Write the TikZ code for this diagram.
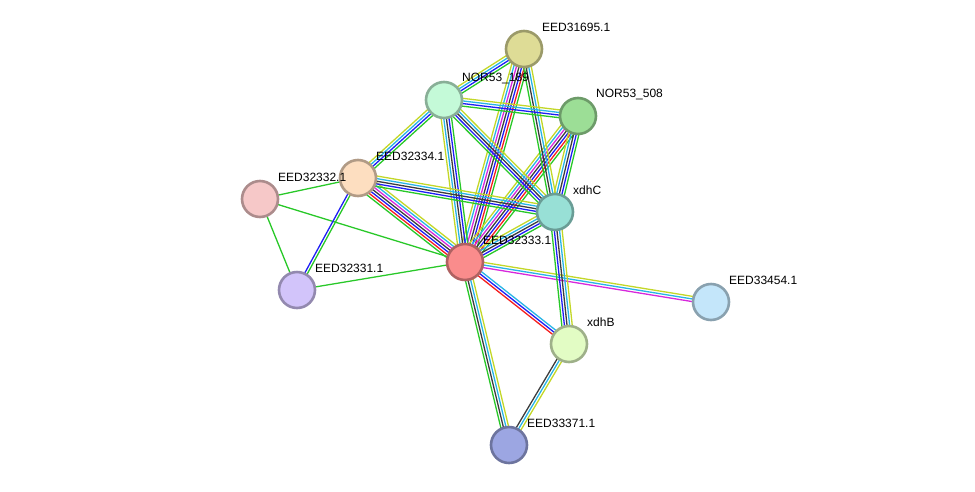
\documentclass[tikz,border=0pt]{standalone}
\usepackage{fontspec}
\setmainfont{Liberation Sans}
\usetikzlibrary{calc,backgrounds}
\definecolor{EvNeigh}{RGB}{40,200,40}
\definecolor{EvFus}{RGB}{245,30,30}
\definecolor{EvCooc}{RGB}{30,30,245}
\definecolor{EvCoex}{RGB}{60,60,60}
\definecolor{EvExp}{RGB}{215,40,220}
\definecolor{EvDb}{RGB}{40,180,230}
\definecolor{EvText}{RGB}{195,215,40}
\tikzset{
	prot/.style={circle,draw=#1!70!black,fill=#1,line width=2.6pt,minimum size=36pt,inner sep=0pt},
	plabel/.style={anchor=west,font=\fontsize{12}{14}\selectfont,text=black,inner sep=0pt},
	evline/.style={line width=1.3pt},
}
% one coloured strand per evidence channel, side by side
\newcommand{\strands}[3]{%
	\foreach \c [count=\n] in {#3} {\xdef\nstrands{\n}}
	\foreach \c [count=\i] in {#3} {
		\pgfmathsetmacro\off{(\i-(\nstrands+1)/2)*2.6}
		\draw[evline,\c] ($(#1.center)!\off pt!90:(#2.center)$) -- ($(#2.center)!\off pt!-90:(#1.center)$);
	}
}

\begin{document}
\begin{tikzpicture}[x=1pt,y=-1pt]
	\useasboundingbox (0,0) rectangle (975,491);
	\definecolor{cA}{RGB}{222,220,150}
	\definecolor{cB}{RGB}{196,250,216}
	\definecolor{cC}{RGB}{156,222,150}
	\definecolor{cD}{RGB}{253,222,192}
	\definecolor{cE}{RGB}{246,200,200}
	\definecolor{cF}{RGB}{152,224,214}
	\definecolor{cG}{RGB}{250,140,140}
	\definecolor{cH}{RGB}{210,196,250}
	\definecolor{cI}{RGB}{196,230,250}
	\definecolor{cJ}{RGB}{226,252,196}
	\definecolor{cK}{RGB}{156,166,226}
	\foreach \nm/\x/\y/\col/\txt in {
		n31695/524/49/cA/EED31695.1,
		n189/444/100/cB/NOR53\_189,
		n508/578/116/cC/NOR53\_508,
		n32334/358/178/cD/EED32334.1,
		n32332/260/199/cE/EED32332.1,
		xdhC/555/212/cF/xdhC,
		n32333/465/262/cG/EED32333.1,
		n32331/297/290/cH/EED32331.1,
		n33454/711/302/cI/EED33454.1,
		xdhB/569/344/cJ/xdhB,
		n33371/509/445/cK/EED33371.1}
	{
		\node[prot=\col] (\nm) at (\x,\y) {};
		\node[plabel] (\nm-l) at ($(\nm.center)+(18,-22)$) {\txt};
	}
	\begin{scope}[on background layer]
		\strands{n32333}{n31695}{EvNeigh,EvFus,EvCooc,EvCoex,EvExp,EvDb,EvText}
		\strands{n32333}{n189}{EvNeigh,EvCooc,EvCoex,EvDb,EvText}
		\strands{n32333}{n508}{EvNeigh,EvFus,EvCooc,EvCoex,EvExp,EvDb,EvText}
		\strands{n32334}{n32333}{EvNeigh,EvFus,EvCooc,EvCoex,EvExp,EvDb,EvText}
		\strands{n32333}{xdhC}{EvNeigh,EvCooc,EvCoex,EvDb,EvText}
		\strands{n32332}{n32333}{EvNeigh}
		\strands{n32331}{n32333}{EvNeigh}
		\strands{n32333}{n33454}{EvExp,EvDb,EvText}
		\strands{n32333}{xdhB}{EvFus,EvCooc,EvDb}
		\strands{n32333}{n33371}{EvNeigh,EvCoex,EvDb,EvText}
		\strands{xdhB}{n33371}{EvCoex,EvDb,EvText}
		\strands{xdhC}{xdhB}{EvNeigh,EvCooc,EvCoex,EvDb,EvText}
		\strands{xdhC}{n508}{EvNeigh,EvCooc,EvCoex,EvDb,EvText}
		\strands{n189}{xdhC}{EvNeigh,EvCooc,EvCoex,EvDb,EvText}
		\strands{n31695}{xdhC}{EvNeigh,EvCoex,EvDb,EvText}
		\strands{n32334}{xdhC}{EvNeigh,EvCooc,EvCoex,EvDb,EvText}
		\strands{n189}{n31695}{EvNeigh,EvCooc,EvDb,EvText}
		\strands{n189}{n508}{EvNeigh,EvCooc,EvDb,EvText}
		\strands{n32334}{n189}{EvNeigh,EvCooc,EvDb,EvText}
		\strands{n32332}{n32334}{EvNeigh}
		\strands{n32331}{n32334}{EvNeigh,EvCooc}
		\strands{n32332}{n32331}{EvNeigh}
	\end{scope}
\end{tikzpicture}
\end{document}
